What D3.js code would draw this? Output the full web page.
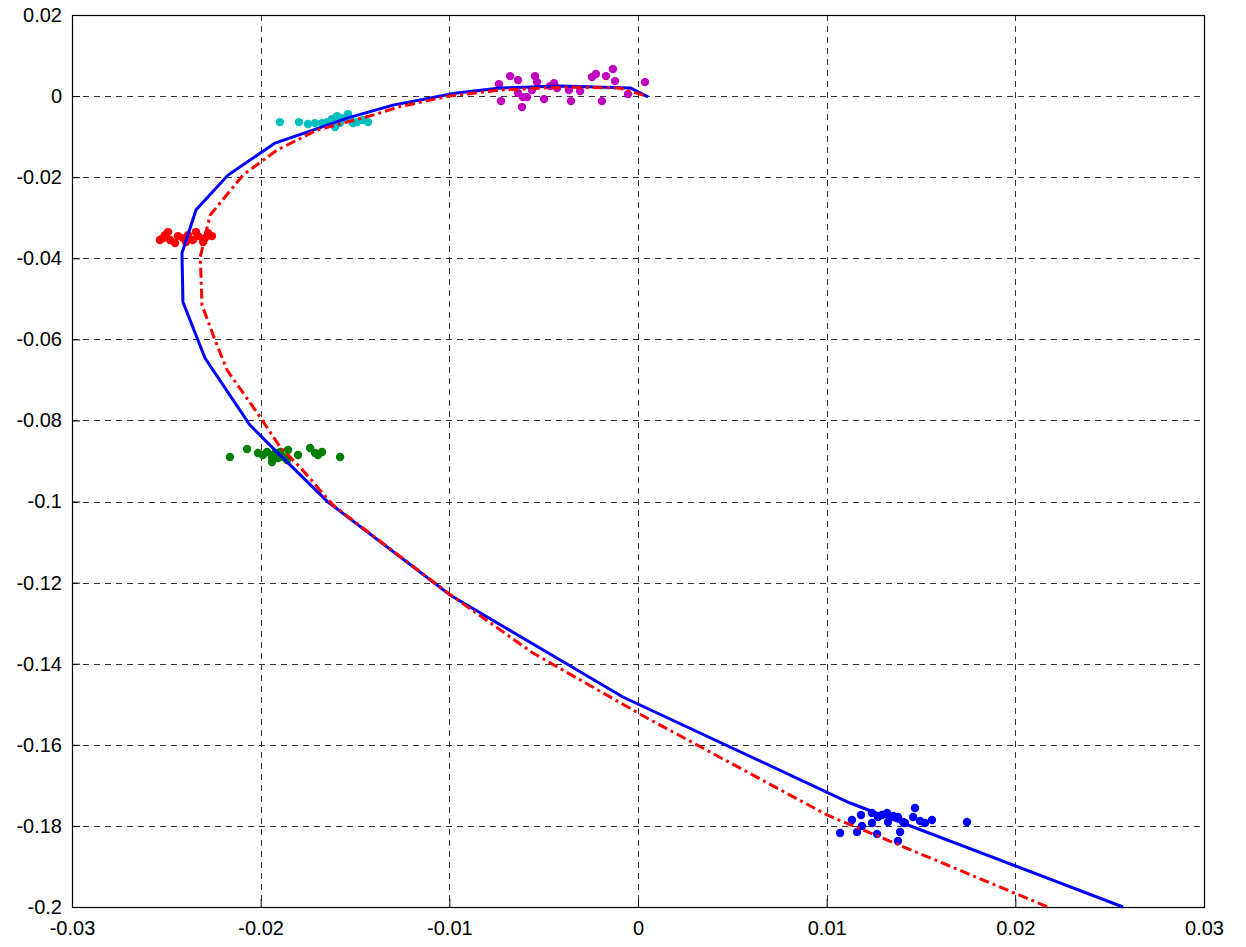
<!DOCTYPE html>
<html>
<head>
<meta charset="utf-8">
<script src="https://cdn.jsdelivr.net/npm/d3@7"></script>
<style>
  body { margin: 0; background: #fff; }
  text { font-family: "Liberation Sans", Arial, sans-serif; }
</style>
</head>
<body>
<div id="chart"></div>
<script>
// tick values
const xTicks = [-0.03, -0.02, -0.01, 0, 0.01, 0.02, 0.03];
const yTicks = [0.02, 0, -0.02, -0.04, -0.06, -0.08, -0.1, -0.12, -0.14, -0.16, -0.18, -0.2];

// solid blue curve
const blueLine = [
  [0.00053, -0.0002], [-0.0004, 0.002], [-0.0041, 0.0025], [-0.0073, 0.002],
  [-0.0097, 0.0007], [-0.01299, -0.00222], [-0.01542, -0.00543], [-0.01723, -0.00838],
  [-0.01924, -0.01159], [-0.02173, -0.01948], [-0.02343, -0.02811], [-0.02417, -0.03872],
  [-0.02412, -0.0508], [-0.02295, -0.06461], [-0.02057, -0.08113], [-0.01951, -0.08607],
  [-0.01643, -0.10012], [-0.00996, -0.12306], [-0.0008, -0.14821], [0.01124, -0.17435],
  [0.02571, -0.2]
];

// red dash-dot curve
const redLine = [
  [0.0003, 0.0002], [-0.001, 0.002], [-0.0041, 0.0022], [-0.0073, 0.0015],
  [-0.01, 0], [-0.01272, -0.00271], [-0.01405, -0.00469], [-0.01701, -0.00838],
  [-0.01913, -0.0133], [-0.02094, -0.0195], [-0.02268, -0.02935], [-0.0232, -0.0397],
  [-0.02311, -0.05154], [-0.02242, -0.06017], [-0.02178, -0.06757], [-0.02003, -0.07916],
  [-0.01897, -0.08656], [-0.01792, -0.09149], [-0.01617, -0.10086], [-0.01007, -0.12256],
  [-0.00557, -0.13736], [0.00048, -0.15339], [0.01002, -0.17731], [0.02173, -0.2]
];

// point clusters
const magentaPts = [
  [-0.00737, 0.00296], [-0.00678, 0.00493], [-0.00636, 0.00395], [-0.00726, -0.00123],
  [-0.00615, -0.00271], [-0.00636, 0.00074], [-0.0061, -0.00025], [-0.00588, -0.00025],
  [-0.00546, 0.00493], [-0.00535, 0.00345], [-0.00562, 0.00148], [-0.00498, -0.00074],
  [-0.00466, 0.00247], [-0.00445, 0.0032], [-0.00429, 0.00197], [-0.00366, 0.00148],
  [-0.00355, -0.00123], [-0.00307, 0.00123], [-0.00244, 0.00469], [-0.00223, 0.00543],
  [-0.0017, 0.00493], [-0.00133, 0.00666], [-0.00122, 0.0037], [-0.00191, -0.00123],
  [-0.00053, 0.00049], [0.00037, 0.00345]
];
const cyanPts = [
  [-0.01898, -0.00641], [-0.01797, -0.00641], [-0.01749, -0.0069], [-0.01712, -0.00666],
  [-0.01675, -0.00666], [-0.01648, -0.00641], [-0.01622, -0.00567], [-0.01606, -0.00764],
  [-0.0158, -0.00666], [-0.01537, -0.00444], [-0.01526, -0.00567], [-0.01489, -0.00641],
  [-0.01458, -0.00592], [-0.01431, -0.00641], [-0.01595, -0.00493], [-0.01564, -0.00543],
  [-0.01511, -0.00666]
];
const redPts = [
  [-0.02534, -0.03551], [-0.02507, -0.03428], [-0.0248, -0.03551], [-0.02454, -0.03625],
  [-0.02438, -0.03453], [-0.02412, -0.03502], [-0.02385, -0.03428], [-0.02359, -0.03551],
  [-0.02332, -0.03453], [-0.02305, -0.036], [-0.02279, -0.03379], [-0.02258, -0.03453],
  [-0.02491, -0.03354], [-0.02396, -0.036], [-0.02343, -0.03354], [-0.02295, -0.03502],
  [-0.02518, -0.03502]
];
const greenPts = [
  [-0.02163, -0.08903], [-0.02072, -0.08705], [-0.02014, -0.08804], [-0.01988, -0.08853],
  [-0.01966, -0.08779], [-0.0194, -0.09026], [-0.01924, -0.08804], [-0.01897, -0.08779],
  [-0.01882, -0.08903], [-0.01855, -0.0873], [-0.01802, -0.08853], [-0.01738, -0.0868],
  [-0.01712, -0.08804], [-0.01675, -0.08779], [-0.01579, -0.08903], [-0.0194, -0.08903],
  [-0.01908, -0.08927], [-0.0186, -0.08977], [-0.01696, -0.08853]
];
const bluePts = [
  [0.01071, -0.18175], [0.01134, -0.17855], [0.01182, -0.17731], [0.01161, -0.1815],
  [0.0124, -0.17682], [0.0124, -0.17929], [0.01187, -0.18003], [0.01267, -0.182],
  [0.01293, -0.17731], [0.0132, -0.17682], [0.01325, -0.17904], [0.01352, -0.17756],
  [0.01378, -0.1778], [0.01389, -0.1815], [0.01378, -0.18372], [0.01415, -0.17929],
  [0.01468, -0.17559], [0.01458, -0.1778], [0.01495, -0.17879], [0.01521, -0.17929],
  [0.01558, -0.17855], [0.01744, -0.17904], [0.01272, -0.1778], [0.01336, -0.1778],
  [0.01405, -0.17904]
];

const width = 1246, height = 947;
const margin = { top: 15, right: 42, bottom: 40, left: 72 };

const svg = d3.select("#chart").append("svg")
  .attr("width", width)
  .attr("height", height);

const x = d3.scaleLinear().domain([-0.03, 0.03]).range([margin.left, width - margin.right]);
const y = d3.scaleLinear().domain([-0.2, 0.02]).range([height - margin.bottom, margin.top]);

const fmt = d => d === 0 ? "0" : String(+d.toFixed(2));

// grid lines
const grid = svg.append("g").attr("stroke", "#333").attr("stroke-width", 1).attr("stroke-dasharray", "6,5");
grid.selectAll(".gx").data(xTicks.slice(1, -1)).enter().append("line")
  .attr("x1", d => Math.round(x(d)) + 0.5).attr("x2", d => Math.round(x(d)) + 0.5)
  .attr("y1", margin.top).attr("y2", height - margin.bottom);
grid.selectAll(".gy").data(yTicks.slice(1, -1)).enter().append("line")
  .attr("y1", d => Math.round(y(d)) + 0.5).attr("y2", d => Math.round(y(d)) + 0.5)
  .attr("x1", margin.left).attr("x2", width - margin.right);

// axes with inward ticks
const xAxis = svg.append("g")
  .attr("transform", `translate(0,${height - margin.bottom})`)
  .call(d3.axisBottom(x).tickValues(xTicks).tickFormat(fmt).tickSizeInner(-8).tickSizeOuter(0).tickPadding(14));
const yAxis = svg.append("g")
  .attr("transform", `translate(${margin.left},0)`)
  .call(d3.axisLeft(y).tickValues(yTicks).tickFormat(fmt).tickSizeInner(-8).tickSizeOuter(0).tickPadding(10));
[xAxis, yAxis].forEach(a => {
  a.selectAll("text").attr("font-size", 20).attr("fill", "#000")
    .style("font-family", "'Liberation Sans', Arial, sans-serif");
  a.select(".domain").remove();
});
xAxis.selectAll("text").attr("dy", "0.71em");

// box
svg.append("rect")
  .attr("x", margin.left + 0.5).attr("y", margin.top + 0.5)
  .attr("width", x(0.03) - x(-0.03)).attr("height", y(-0.2) - y(0.02))
  .attr("fill", "none").attr("stroke", "#000").attr("stroke-width", 1.2);

const plot = svg.append("g");
const line = d3.line().x(d => x(d[0])).y(d => y(d[1]));

const clusters = [
  { pts: magentaPts, color: "#bf00bf" },
  { pts: cyanPts, color: "#00bfbf" },
  { pts: redPts, color: "#ff0000" },
  { pts: greenPts, color: "#008000" },
  { pts: bluePts, color: "#0000ff" }
];
clusters.forEach(c => {
  plot.selectAll(null).data(c.pts).enter().append("circle")
    .attr("cx", d => x(d[0])).attr("cy", d => y(d[1]))
    .attr("r", 4.2).attr("fill", c.color);
});

plot.append("path").datum(blueLine)
  .attr("d", line).attr("fill", "none")
  .attr("stroke", "#0000ff").attr("stroke-width", 3);

plot.append("path").datum(redLine)
  .attr("d", line).attr("fill", "none")
  .attr("stroke", "#ff0000").attr("stroke-width", 3)
  .attr("stroke-dasharray", "10,4,3,4");
</script>
</body>
</html>
